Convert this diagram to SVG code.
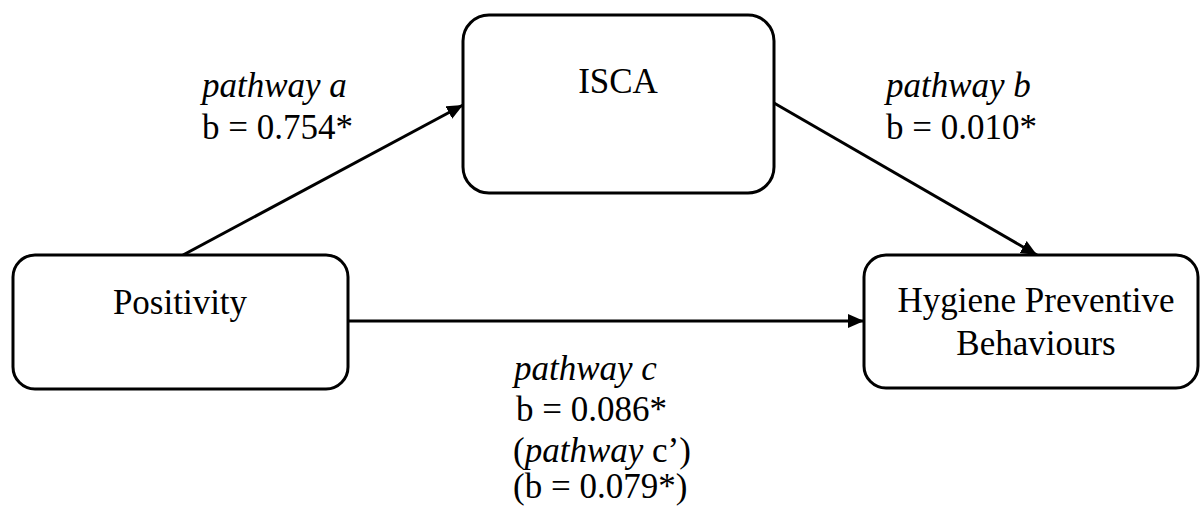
<svg xmlns="http://www.w3.org/2000/svg" width="1200" height="507" viewBox="0 0 1200 507">
<defs>
<marker id="arrow" markerUnits="userSpaceOnUse" markerWidth="18" markerHeight="16" refX="16" refY="7" orient="auto">
<path d="M0,0 L16,7 L0,14 z" fill="#000"/>
</marker>
<style>
.box{fill:#fff;stroke:#000;stroke-width:3}
.t{font-family:"Liberation Serif","Times New Roman",serif;font-size:35px;fill:#000}
.c{text-anchor:middle}
.i{font-style:italic}
.edge{stroke:#000;stroke-width:3;fill:none;marker-end:url(#arrow)}
</style>
</defs>
<rect width="1200" height="507" fill="#fff"/>
<g id="connectors">
<line class="edge" x1="183" y1="255" x2="463" y2="105"/>
<line class="edge" x1="774" y1="103" x2="1037" y2="255"/>
<line class="edge" x1="348" y1="321" x2="864" y2="321"/>
</g>
<g id="positivity">
<rect class="box" x="13" y="255" width="335" height="134" rx="22" ry="22"/>
<text class="t c" x="180" y="314">Positivity</text>
</g>
<g id="isca">
<rect class="box" x="463" y="15" width="311" height="178" rx="26" ry="26"/>
<text class="t c" x="618" y="93">ISCA</text>
</g>
<g id="hygiene">
<rect class="box" x="864" y="255" width="334" height="133" rx="22" ry="22"/>
<text class="t c" x="1036" y="312">Hygiene Preventive</text>
<text class="t c" x="1036" y="355">Behaviours</text>
</g>
<g id="label-a">
<text class="t i" x="202" y="97">pathway a</text>
<text class="t" x="202" y="139">b = 0.754*</text>
</g>
<g id="label-b">
<text class="t i" x="886" y="97">pathway b</text>
<text class="t" x="886" y="139">b = 0.010*</text>
</g>
<g id="label-c">
<text class="t i" x="514" y="380">pathway c</text>
<text class="t" x="516" y="421">b = 0.086*</text>
<text class="t" x="513" y="462">(<tspan class="i">pathway</tspan> c’)</text>
<text class="t" x="513" y="498">(b = 0.079*)</text>
</g>
</svg>
